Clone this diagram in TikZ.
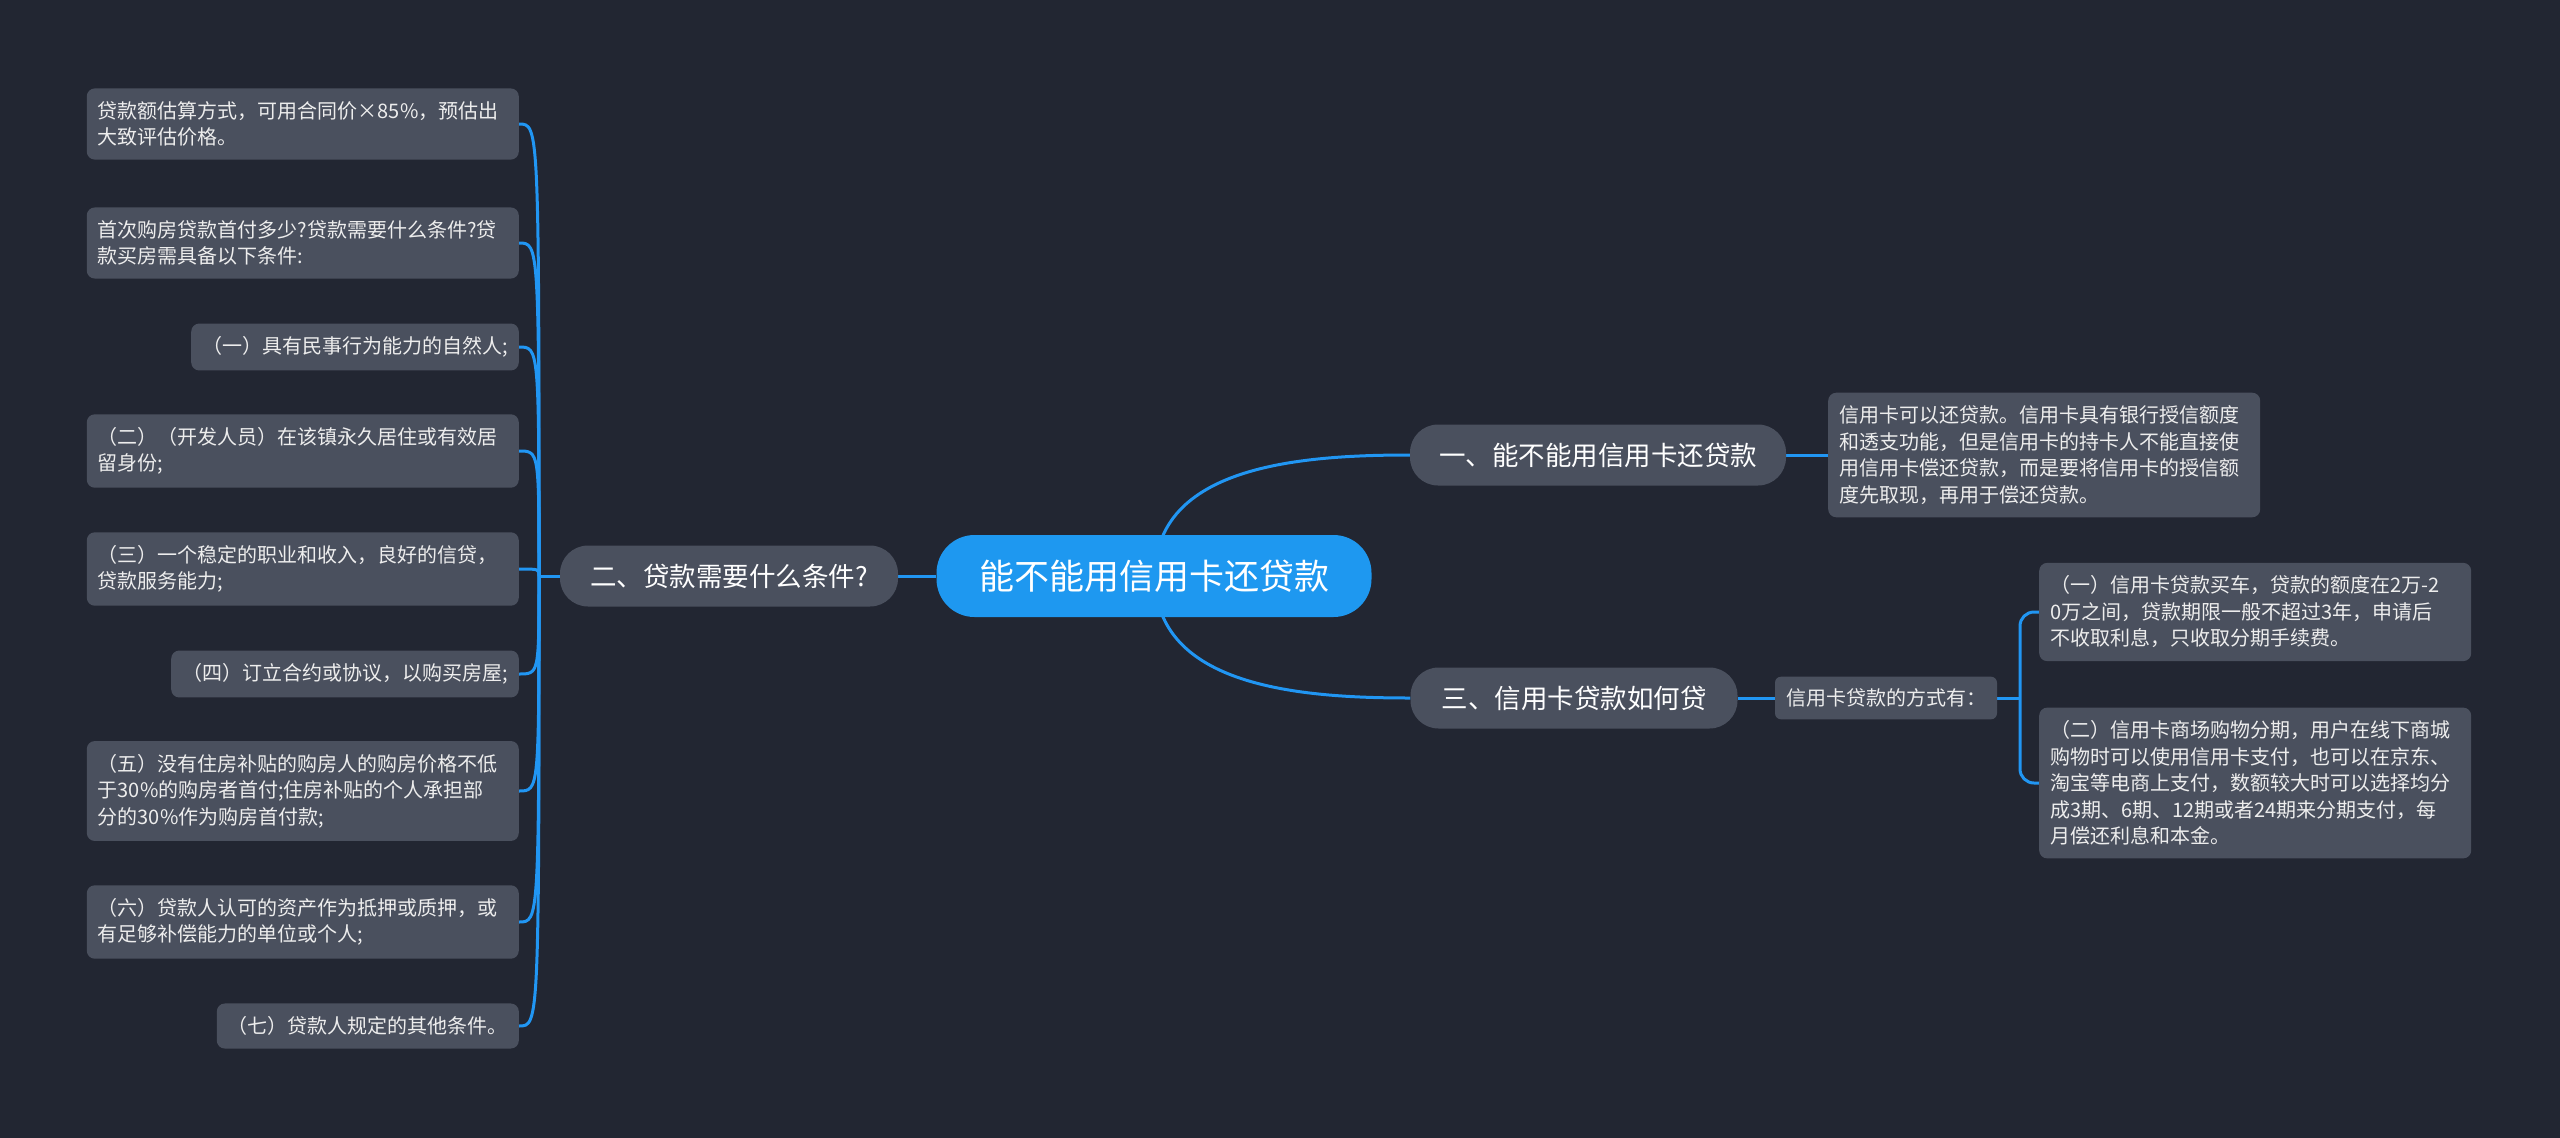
\documentclass[tikz,border=0pt]{standalone}
\usepackage{fontspec}
\newfontfamily\cjk{Noto Sans CJK SC}
\definecolor{bgc}{HTML}{222632}
\definecolor{boxc}{HTML}{4A505E}
\definecolor{rootc}{HTML}{1E98F0}
\definecolor{linec}{HTML}{2196F3}
\definecolor{txtc}{HTML}{EDEDED}
\pgfdeclarelayer{bg}
\pgfsetlayers{bg,main}
\begin{document}
\begin{tikzpicture}[x=1pt,y=-1pt]
		\tikzstyle{leaf}=[fill=boxc, rounded corners=8pt, inner xsep=11pt, inner ysep=13pt, align=left, text=txtc, font=\cjk\fontsize{20}{26.5}\selectfont]
		\tikzstyle{wide}=[text width=410pt]
		\tikzstyle{topic}=[fill=boxc, rounded corners=28pt, minimum height=61pt, text=white, font=\cjk\fontsize{26.5}{30}\selectfont]
		\tikzstyle{conn}=[draw=linec, line width=3pt]
		\begin{pgfonlayer}{bg}
			\fill[bgc] (0,0) rectangle (2560,1138);
		\end{pgfonlayer}
		\useasboundingbox (0,0) rectangle (2560,1138);

		\node[fill=rootc, rounded corners=38pt, minimum width=435pt, minimum height=82pt, text=white, font=\cjk\fontsize{35}{40}\selectfont] (r) at (1154,576) {能不能用信用卡还贷款};

		\node[topic, minimum width=338pt] (a) at (729,576) {二、贷款需要什么条件?};
		\node[topic, minimum width=376pt] (b) at (1598,455) {一、能不能用信用卡还贷款};
		\node[topic, minimum width=327pt] (c) at (1574,698) {三、信用卡贷款如何贷};

		\begin{scope}[every node/.style={leaf, anchor=east}]
			\node[wide] (l1) at (519,124) {贷款额估算方式，可用合同价×85\%，预估出\\大致评估价格。};
			\node[wide] (l2) at (519,243) {首次购房贷款首付多少?贷款需要什么条件?贷\\款买房需具备以下条件:};
			\node (l3) at (519,347) {（一）具有民事行为能力的自然人;};
			\node[wide] (l4) at (519,451) {（二）（开发人员）在该镇永久居住或有效居\\留身份;};
			\node[wide] (l5) at (519,569) {（三）一个稳定的职业和收入，良好的信贷，\\贷款服务能力;};
			\node (l6) at (519,674) {（四）订立合约或协议，以购买房屋;};
			\node[wide] (l7) at (519,791) {（五）没有住房补贴的购房人的购房价格不低\\于30\%的购房者首付;住房补贴的个人承担部\\分的30\%作为购房首付款;};
			\node[wide] (l8) at (519,922) {（六）贷款人认可的资产作为抵押或质押，或\\有足够补偿能力的单位或个人;};
			\node (l9) at (519,1026) {（七）贷款人规定的其他条件。};
		\end{scope}

		\begin{scope}[every node/.style={leaf, wide, anchor=west}]
			\node (ba) at (1828,455) {信用卡可以还贷款。信用卡具有银行授信额度\\和透支功能，但是信用卡的持卡人不能直接使\\用信用卡偿还贷款，而是要将信用卡的授信额\\度先取现，再用于偿还贷款。};
			\node (c1) at (2039,612) {（一）信用卡贷款买车，贷款的额度在2万-2\\0万之间，贷款期限一般不超过3年，申请后\\不收取利息，只收取分期手续费。};
			\node (c2) at (2039,783) {（二）信用卡商场购物分期，用户在线下商城\\购物时可以使用信用卡支付，也可以在京东、\\淘宝等电商上支付，数额较大时可以选择均分\\成3期、6期、12期或者24期来分期支付，每\\月偿还利息和本金。};
		\end{scope}
		\node[leaf, rounded corners=6pt, inner ysep=12pt] (cm) at (1886,698) {信用卡贷款的方式有：};

		\coordinate (rj) at (1155,576);
		\coordinate (aj) at (539,576);
		\coordinate (cj) at (2020,698);
		\begin{pgfonlayer}{bg}
			\draw[conn] (r) -- (a);
			\draw[conn] (rj) to[out=90,in=180] (b.west);
			\draw[conn] (rj) to[out=-90,in=180] (c.west);
			\draw[conn] (a.west) -- (aj);
			\foreach \n in {l1,l2,l3,l4,l5,l6,l7,l8,l9}
				\draw[conn] (aj) .. controls (aj |- \n.east) .. (\n.east);
			\draw[conn] (b.east) -- (ba.west |- b.east);
			\draw[conn] (c.east) -- (cm.west);
			\draw[conn] (cm.east) -- (cj);
			\draw[conn, rounded corners=14pt] (c1.west) -| (cj) |- (c2.west);
		\end{pgfonlayer}
	\end{tikzpicture}
\end{document}
